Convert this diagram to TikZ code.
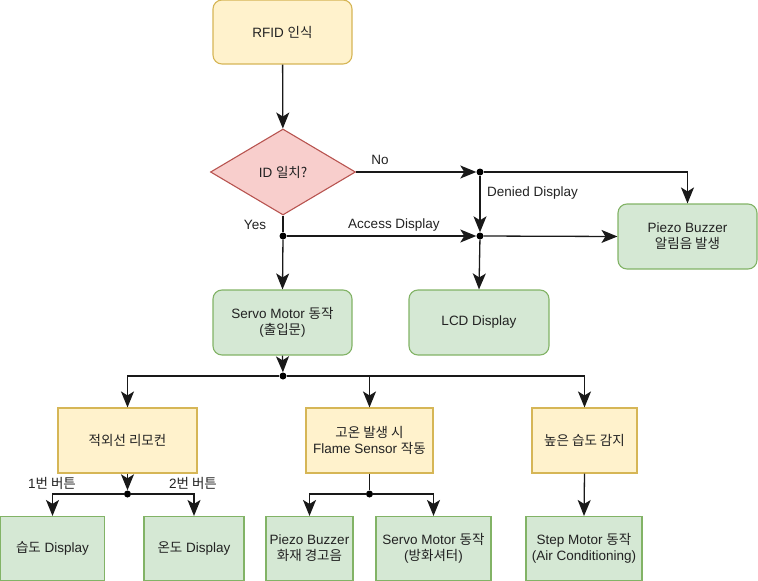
\documentclass[tikz,border=0pt]{standalone}
\usepackage{fontspec}
\setmainfont{Liberation Sans}
\newfontfamily\kr{Noto Sans CJK KR}
\usetikzlibrary{shapes.geometric,arrows.meta}
\definecolor{yfill}{HTML}{FFF2CC}
\definecolor{ydraw}{HTML}{D6B656}
\definecolor{gfill}{HTML}{D5E8D4}
\definecolor{gdraw}{HTML}{82B366}
\definecolor{rfill}{HTML}{F8CECC}
\definecolor{rdraw}{HTML}{B85450}
\definecolor{ink}{HTML}{222222}
\newcommand{\K}[1]{{\kr #1}}
\tikzset{
  box/.style={rectangle, draw, line width=1.1pt, align=center, inner sep=2pt,
    font=\fontsize{13.5}{16}\selectfont, text=ink},
  yellowbox/.style={box, fill=yfill, draw=ydraw},
  greenbox/.style={box, fill=gfill, draw=gdraw},
  rbox/.style={rounded corners=9pt},
  decision/.style={diamond, draw=rdraw, fill=rfill, line width=1.1pt, inner sep=0pt,
    aspect=1.69, minimum width=145, minimum height=86,
    font=\fontsize{13.5}{16}\selectfont, text=ink},
  tip/.tip={Stealth[length=16pt,width=13pt,inset=4pt]},
  flow/.style={line width=1.3pt, draw=black!90, -tip},
  link/.style={line width=1.3pt, draw=black!90},
  dot/.style={circle, fill=black, inner sep=0pt, minimum size=7pt},
  lbl/.style={font=\fontsize{13.5}{16}\selectfont, text=ink, inner sep=0pt},
}
\begin{document}
\begin{tikzpicture}[x=1pt,y=-1pt]
\useasboundingbox (0,0) rectangle (758,581);

% top of the flow
\node[yellowbox, rbox, minimum width=139, minimum height=64] (rfid) at (282.5,32) {RFID \K{인식}};
\node[decision] (check) at (283,172) {ID \K{일치?}};
\node[greenbox, rbox, minimum width=139, minimum height=65] (buzz) at (687.5,236.5) {Piezo Buzzer\\\K{알림음 발생}};
\node[greenbox, rbox, minimum width=139, minimum height=65] (servo) at (282.5,322.5) {Servo Motor \K{동작}\\(\K{출입문})};
\node[greenbox, rbox, minimum width=140, minimum height=65] (lcd) at (479,322.5) {LCD Display};

% junction points
\node[dot] (jno) at (480,172) {};
\node[dot] (jyes) at (283,236) {};
\node[dot] (jmid) at (480,236) {};
\node[dot] (jsplit) at (283,376) {};
\node[dot] (jir) at (127.5,494) {};
\node[dot] (jfire) at (369.5,494) {};

% sensing stage
\node[yellowbox, minimum width=139, minimum height=65] (ir) at (127.5,440.5) {\K{적외선 리모컨}};
\node[yellowbox, minimum width=127, minimum height=65] (fire) at (369.5,440.5) {\K{고온 발생 시}\\Flame Sensor \K{작동}};
\node[yellowbox, minimum width=105, minimum height=65] (humid) at (584.5,440.5) {\K{높은 습도 감지}};

% actuators
\node[greenbox, minimum width=104, minimum height=64] (hdisp) at (52.5,548.5) {\K{습도} Display};
\node[greenbox, minimum width=100, minimum height=64] (tdisp) at (194,548.5) {\K{온도} Display};
\node[greenbox, minimum width=87, minimum height=64] (alarm) at (309.5,548.5) {Piezo Buzzer\\\K{화재 경고음}};
\node[greenbox, minimum width=115, minimum height=64] (shutter) at (433.5,548.5) {Servo Motor \K{동작}\\(\K{방화셔터})};
\node[greenbox, minimum width=116, minimum height=64] (step) at (584,548.5) {Step Motor \K{동작}\\(Air Conditioning)};

% connectors
\draw[flow] (rfid) -- (check);
\draw[flow] (check.east) -- (jno);
\draw[flow] (jno) -| (buzz.north);
\draw[flow] (jno) -- (jmid);
\draw[flow] (jmid) -- (lcd.north);
\draw[link] (check.south) -- (jyes);
\draw[flow] (jyes) -- (servo.north);
\draw[flow] (jyes) -- (jmid);
\draw[flow] (jmid) -- (buzz.west);

\draw[flow] (servo.south) -- (jsplit);
\draw[flow] (jsplit) -| (ir.north);
\draw[flow] (jsplit) -| (fire.north);
\draw[flow] (jsplit) -| (humid.north);

\draw[flow] (ir.south) -- (jir);
\draw[flow] (jir) -| (hdisp.north);
\draw[flow] (jir) -| (tdisp.north);
\draw[link] (fire.south) -- (jfire);
\draw[flow] (jfire) -| (alarm.north);
\draw[flow] (jfire) -| (shutter.north);
\draw[flow] (humid.south) -- (step.north);

% connector labels
\node[lbl] (lno) at (380,160) {No};
\node[lbl] (lyes) at (255,225) {Yes};
\node[lbl] (lacc) at (394,225) {Access Display};
\node[lbl, anchor=west] (lden) at (487,193) {Denied Display};
\node[lbl] (lb1) at (52,483) {1\K{번 버튼}};
\node[lbl] (lb2) at (193,483) {2\K{번 버튼}};
\end{tikzpicture}
\end{document}
